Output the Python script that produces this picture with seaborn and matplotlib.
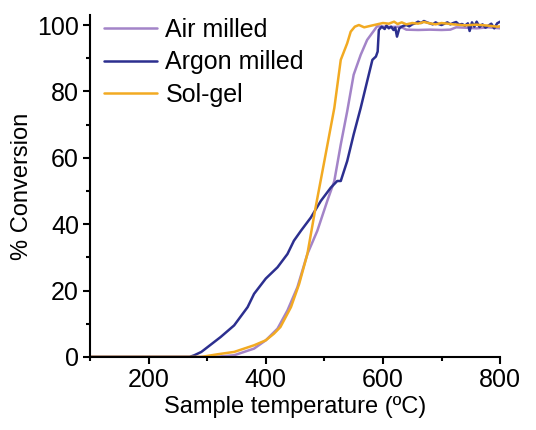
import pandas as pd
import numpy as np
import matplotlib
matplotlib.use('Agg')
import matplotlib.pyplot as plt
import seaborn as sns
from matplotlib.ticker import MultipleLocator

sns.set_style('ticks')
plt.rcParams['font.family'] = ['Liberation Sans', 'DejaVu Sans']
plt.rcParams['text.color'] = 'black'
plt.rcParams['xtick.color'] = 'black'
plt.rcParams['ytick.color'] = 'black'
plt.rcParams['axes.labelcolor'] = 'black'
plt.rcParams['axes.edgecolor'] = 'black'

# values
air_t = [100, 200, 300, 320, 346, 380, 400, 420, 437, 454, 471, 488, 505, 517, 528,
         539, 550, 562, 573, 590, 600, 615, 630, 640, 660, 680, 700, 715, 725, 740,
         760, 780, 800]
air_y = [0, 0, 0, 0.1, 0.5, 2.5, 5, 8.5, 14, 21, 31, 38, 47, 53, 64,
         74, 85, 91, 95.5, 99.6, 99.5, 99.4, 99.5, 98.6, 98.5, 98.6, 98.5, 98.6, 99.3, 99.2,
         99.0, 99.3, 99.0]

argon_t = [100, 200, 270, 278, 290, 301, 323, 346, 369, 380, 400, 420, 437, 448, 460,
           477, 494, 511, 522, 528, 539, 550, 562, 573, 582, 588, 591, 593, 598, 603,
           606, 610, 614, 618, 621, 624, 628, 632, 636, 640, 645, 650, 655, 660, 665,
           670, 675, 680, 685, 690, 695, 700, 705, 710, 715, 720, 725, 730, 735, 740,
           745, 748, 752, 756, 760, 765, 770, 775, 780, 785, 790, 795, 800]
argon_y = [0, 0, 0, 0.5, 1.5, 3, 6, 9.5, 15, 19, 23.6, 27, 31, 35, 38,
           42, 47, 51, 53, 53, 59, 67, 75, 83, 89.5, 90.5, 92, 98.5, 99.5, 98.8,
           99.8, 99, 99.5, 98.5, 99.2, 96.5, 99, 99.5, 99.8, 100, 99.6, 100.2, 100.5, 101, 100.6,
           101.2, 100.8, 100.5, 100.2, 100.8, 100.3, 100, 100.4, 100.8, 100.2, 100.6, 100.9, 100.1, 100.3, 99.8,
           100.5, 98.2, 100.8, 99.5, 101, 99.4, 100.2, 99.2, 99.8, 100.4, 99, 100.5, 101]

solgel_t = [100, 200, 290, 318, 346, 380, 400, 414, 425, 443, 457, 471, 485, 500, 517,
            528, 539, 545, 552, 559, 568, 580, 590, 600, 610, 619, 625, 632, 640, 650,
            660, 670, 680, 690, 700, 720, 740, 760, 780, 795, 800]
solgel_y = [0, 0, 0, 0.8, 1.5, 3.5, 5, 7, 9, 15, 22, 31, 45, 59, 75,
            89.5, 94.5, 98, 99.5, 100, 99.3, 99.8, 100.2, 100.6, 100.4, 101, 100.3, 100.8, 100.2, 100.6,
            100.4, 100.9, 100.5, 100.2, 100.6, 100.2, 99.9, 100.1, 99.8, 99.5, 99.6]

labels = ['Air milled', 'Argon milled', 'Sol-gel']
colors = ['#a384c8', '#2c2f8f', '#f2aa22']

df = pd.concat([
    pd.DataFrame({'T': air_t, 'conv': air_y, 'sample': labels[0]}),
    pd.DataFrame({'T': argon_t, 'conv': argon_y, 'sample': labels[1]}),
    pd.DataFrame({'T': solgel_t, 'conv': solgel_y, 'sample': labels[2]}),
])

fig = plt.figure(figsize=(5.36, 4.30), dpi=100)
ax = fig.add_axes([0.168, 0.170, 0.765, 0.795])

sns.lineplot(data=df, x='T', y='conv', hue='sample', palette=dict(zip(labels, colors)),
             sort=False, estimator=None, linewidth=1.8, ax=ax)

ax.set_xlim(100, 800)
ax.set_ylim(0, 103)
ax.xaxis.set_major_locator(MultipleLocator(200))
ax.xaxis.set_minor_locator(MultipleLocator(100))
ax.yaxis.set_major_locator(MultipleLocator(20))
ax.yaxis.set_minor_locator(MultipleLocator(10))
ax.tick_params(which='major', direction='out', length=5, width=1.5, labelsize=18, pad=3)
ax.tick_params(which='minor', direction='out', length=3, width=1.5)
for s in ['top', 'right']:
    ax.spines[s].set_visible(False)
for s in ['left', 'bottom']:
    ax.spines[s].set_linewidth(1.5)

ax.set_xlabel('Sample temperature (\u00baC)', fontsize=17, labelpad=3)
ax.set_ylabel('% Conversion', fontsize=17, labelpad=3)

ax.legend(frameon=False, loc='upper left', fontsize=18, handlelength=2.1,
          labelspacing=0.33, borderaxespad=0.0, bbox_to_anchor=(0.01, 1.02), handletextpad=0.35)

fig.savefig('out.png', dpi=100)
